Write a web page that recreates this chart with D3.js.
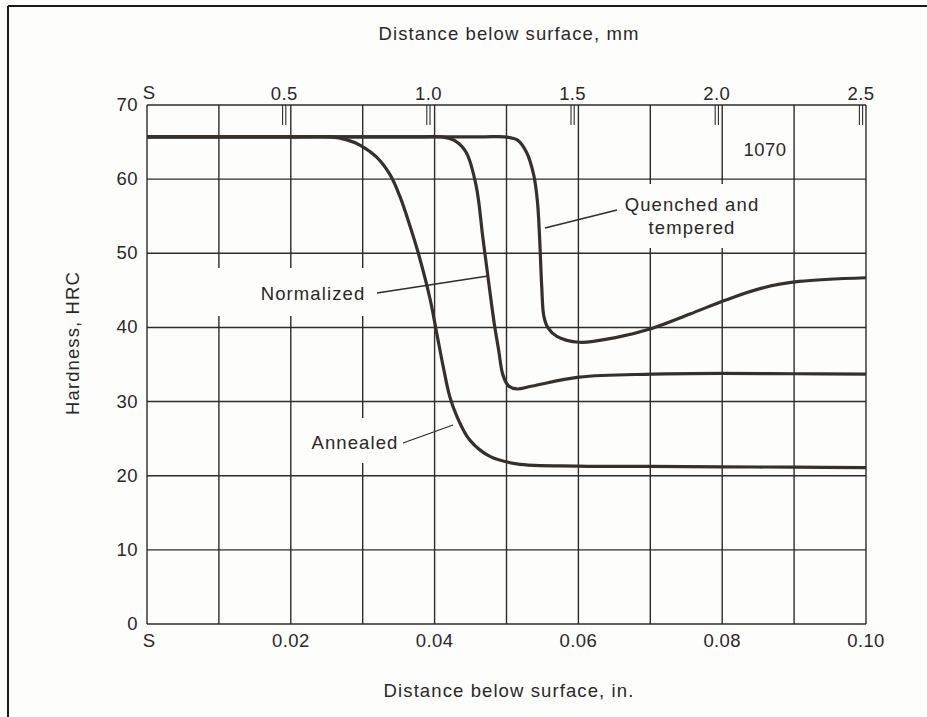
<!DOCTYPE html>
<html>
<head>
<meta charset="utf-8">
<script src="https://cdn.jsdelivr.net/npm/d3@7"></script>
<style>
  body { margin: 0; background: #fdfdfc; }
  text { font-family: "Liberation Sans", Arial, sans-serif; fill: #2a2826; font-size: 18.5px; }
  .num { letter-spacing: 0.4px; }
  .word { letter-spacing: 1.1px; }
</style>
</head>
<body>
<script>
// Hardness profiles for 1070 steel (inch, HRC)
var annealed = [
  [0, 65.7], [0.01, 65.7], [0.02, 65.7], [0.0255, 65.7], [0.0278, 65.3], [0.0296, 64.6],
  [0.0319, 63.0], [0.0338, 60.6], [0.0352, 57.6], [0.0366, 53.6], [0.0380, 49.1], [0.0394, 43.7],
  [0.0403, 39.2], [0.0412, 34.7], [0.0421, 30.7], [0.0431, 28.0], [0.0449, 24.8], [0.0477, 22.6],
  [0.0514, 21.6], [0.06, 21.3], [0.07, 21.25], [0.08, 21.2], [0.09, 21.15], [0.10, 21.1]
];
var normalized = [
  [0, 65.7], [0.01, 65.7], [0.02, 65.7], [0.03, 65.7], [0.038, 65.7], [0.041, 65.7],
  [0.0428, 65.2], [0.0444, 63.6], [0.0458, 59], [0.0467, 52.2], [0.0476, 45.5], [0.0483, 40.5],
  [0.0489, 37], [0.0495, 33.6], [0.0503, 32.1], [0.0514, 31.7], [0.0536, 32.1], [0.0601, 33.3],
  [0.0703, 33.7], [0.08, 33.8], [0.09, 33.75], [0.10, 33.7]
];
var quenchedTempered = [
  [0, 65.7], [0.01, 65.7], [0.02, 65.7], [0.03, 65.7], [0.04, 65.7], [0.047, 65.7], [0.0497, 65.7],
  [0.0515, 65.3], [0.0528, 63.6], [0.0538, 60.5], [0.0543, 57], [0.0546, 52.2], [0.0549, 45.5],
  [0.0552, 41.5], [0.0558, 39.9], [0.057, 38.8], [0.0601, 38], [0.065, 38.6], [0.0703, 39.9],
  [0.0755, 41.8], [0.0805, 43.7], [0.0855, 45.3], [0.0907, 46.2], [0.10, 46.7]
];

var xTicksIn = [0.02, 0.04, 0.06, 0.08, 0.10];
var xGridIn = d3.range(0.01, 0.1001, 0.01);
var yTicks = [0, 10, 20, 30, 40, 50, 60, 70];
var mmTicks = [0.5, 1.0, 1.5, 2.0, 2.5];

var width = 927, height = 717;

var svg = d3.select("body").append("svg")
    .attr("width", width)
    .attr("height", height);

// frame of the scanned page (top and left only)
svg.append("line").attr("x1", 8).attr("x2", width).attr("y1", 6).attr("y2", 6)
    .attr("stroke", "#1a1a1a").attr("stroke-width", 2);
svg.append("line").attr("x1", 8).attr("x2", 8).attr("y1", 6).attr("y2", height)
    .attr("stroke", "#1a1a1a").attr("stroke-width", 2);

var x = d3.scaleLinear().domain([0, 0.10]).range([147, 866]);
var y = d3.scaleLinear().domain([0, 70]).range([624, 105]);
// the printed mm scale is a little off the inch scale
var xmm = d3.scaleLinear().domain([0, 2.5]).range([140, 861]);

var gridColor = "#2e2c2a";

// grid
var grid = svg.append("g");
grid.selectAll(".hgrid").data(yTicks).enter().append("line")
    .attr("x1", x(0)).attr("x2", x(0.10))
    .attr("y1", function(d) { return y(d); }).attr("y2", function(d) { return y(d); })
    .attr("stroke", gridColor).attr("stroke-width", 1.4);
grid.selectAll(".vgrid").data([0].concat(xGridIn)).enter().append("line")
    .attr("x1", function(d) { return x(d); }).attr("x2", function(d) { return x(d); })
    .attr("y1", y(0)).attr("y2", y(70))
    .attr("stroke", gridColor).attr("stroke-width", 1.4);

// mm ticks (double marks hanging from the top edge)
mmTicks.forEach(function(m) {
  [-1.6, 1.6].forEach(function(o) {
    svg.append("line")
      .attr("x1", xmm(m) + o).attr("x2", xmm(m) + o)
      .attr("y1", y(70)).attr("y2", y(70) + 20)
      .attr("stroke", gridColor).attr("stroke-width", 1.1);
  });
});

// axes labels
svg.selectAll(".ylab").data(yTicks).enter().append("text")
    .attr("class", "num")
    .attr("x", 138).attr("y", function(d) { return y(d) + 6; })
    .attr("text-anchor", "end")
    .text(function(d) { return d; });

svg.selectAll(".xlab").data(xTicksIn).enter().append("text")
    .attr("class", "num")
    .attr("x", function(d) { return x(d); }).attr("y", 647)
    .attr("text-anchor", "middle")
    .text(function(d) { return d3.format(".2f")(d); });
svg.append("text").attr("x", x(0) + 2).attr("y", 647)
    .attr("text-anchor", "middle").text("S");

svg.selectAll(".mmlab").data(mmTicks).enter().append("text")
    .attr("class", "num")
    .attr("x", function(d) { return xmm(d); }).attr("y", 100)
    .attr("text-anchor", "middle")
    .text(function(d) { return d3.format(".1f")(d); });
svg.append("text").attr("x", x(0) + 2).attr("y", 99)
    .attr("text-anchor", "middle").text("S");

svg.append("text").attr("class", "word").attr("x", 509).attr("y", 40)
    .attr("text-anchor", "middle")
    .text("Distance below surface, mm");
svg.append("text").attr("class", "word").attr("x", 509).attr("y", 697)
    .attr("text-anchor", "middle")
    .text("Distance below surface, in.");
svg.append("text").attr("class", "word")
    .attr("transform", "translate(79,343) rotate(-90)")
    .attr("text-anchor", "middle")
    .text("Hardness, HRC");

// curve labels with paper-white boxes that break the grid
var bg = "#fdfdfc";
function label(lines, cx, cy, bx, by, bw, bh) {
  svg.append("rect").attr("x", bx).attr("y", by).attr("width", bw).attr("height", bh).attr("fill", bg);
  lines.forEach(function(t, i) {
    svg.append("text").attr("class", "word").attr("x", cx).attr("y", cy + i * 23)
      .attr("text-anchor", "middle").text(t);
  });
}
label(["Quenched and", "tempered"], 692, 211, 606, 184, 172, 64);
label(["Normalized"], 313, 300, 210, 268, 170, 48);
label(["Annealed"], 355, 449, 300, 418, 110, 45);
svg.append("text").attr("class", "num").attr("x", 765).attr("y", 156)
    .attr("text-anchor", "middle").text("1070");

// leader lines
var leaders = [
  [[617, 210], [545, 228]],
  [[377, 293], [488, 276]],
  [[403, 443], [453, 425]]
];
svg.selectAll(".leader").data(leaders).enter().append("line")
    .attr("x1", function(d) { return d[0][0]; }).attr("y1", function(d) { return d[0][1]; })
    .attr("x2", function(d) { return d[1][0]; }).attr("y2", function(d) { return d[1][1]; })
    .attr("stroke", "#2e2c2a").attr("stroke-width", 1.3);

// curves
var line = d3.line()
    .x(function(d) { return x(d[0]); })
    .y(function(d) { return y(d[1]); })
    .curve(d3.curveCatmullRom.alpha(0.5));

svg.selectAll(".curve").data([annealed, normalized, quenchedTempered]).enter().append("path")
    .attr("d", line)
    .attr("fill", "none")
    .attr("stroke", "#36302b")
    .attr("stroke-width", 3.2)
    .attr("stroke-linejoin", "round");
</script>
</body>
</html>
